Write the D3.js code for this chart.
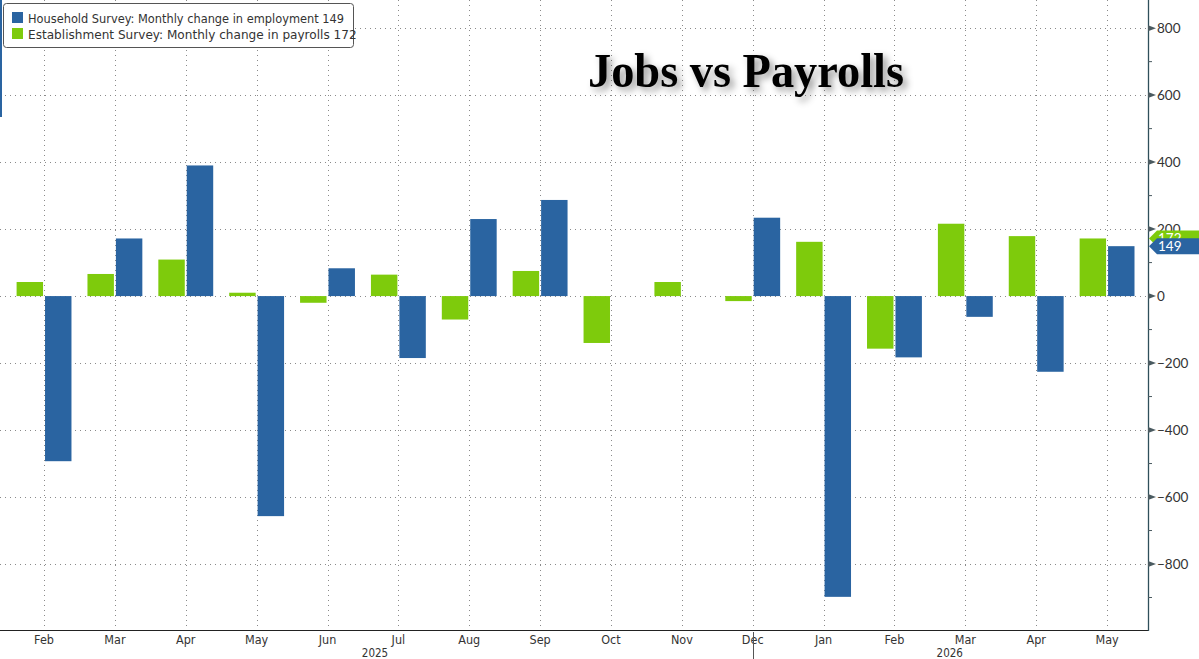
<!DOCTYPE html>
<html>
<head>
<meta charset="utf-8">
<script src="https://cdn.jsdelivr.net/npm/d3@7"></script>
<style>
  html, body { margin: 0; padding: 0; background: #fff; }
  svg { display: block; }
  .lbl { font-family: "DejaVu Sans Condensed", "Liberation Sans Narrow", "DejaVu Sans", sans-serif; fill: #333; }
</style>
</head>
<body>
<svg id="chart"></svg>
<script>
// months shown on the axis (Feb 2025 .. May 2026)
const months = ['Feb', 'Mar', 'Apr', 'May', 'Jun', 'Jul', 'Aug', 'Sep', 'Oct', 'Nov', 'Dec',
                'Jan', 'Feb', 'Mar', 'Apr', 'May'];
const monthKeys = months.map((m, i) => i + '-' + m);
const years = [{ label: '2025', at: 4.67 }, { label: '2026', at: 12.78 }];

// thousands, monthly change
const establishment = [42, 66, 109, 10, -20, 64, -70, 75, -140, 42, -15, 162, -157, 216, 179, 172];
const household = [-493, 172, 390, -657, 83, -185, 230, 287, null, null, 234, -898, -183, -62, -226, 149];

const yTicks = [800, 600, 400, 200, 0, -200, -400, -600, -800];
const yMinor = [700, 500, 300, 100, -100, -300, -500, -700, -900];

const seriesNames = ['Establishment Survey: Monthly change in payrolls', 'Household Survey: Monthly change in employment'];
const colors = { est: '#7ecb0c', hh: '#2a64a1' };

const W = 1199, H = 659;
const plotR = 1148, plotB = 630;

const svg = d3.select('#chart').attr('width', W).attr('height', H);

const x = d3.scaleBand().domain(monthKeys).range([8.6, 1142.5]);
const sub = d3.scaleBand().domain(['est', 'hh']).range([8, x.bandwidth() - 8]).paddingInner(0.07);
const y = d3.scaleLinear().domain([-997, 884]).range([plotB, 0]);
const cx = k => x(k) + x.bandwidth() / 2;

const defs = svg.append('defs');
const f = defs.append('filter').attr('id', 'shadow').attr('x', '-10%').attr('y', '-30%').attr('width', '130%').attr('height', '170%');
f.append('feDropShadow').attr('dx', 4).attr('dy', 4).attr('stdDeviation', 3.5).attr('flood-color', '#000').attr('flood-opacity', 0.4);

// grid
const grid = svg.append('g').attr('stroke', '#8a8a8a').attr('stroke-width', 1).attr('stroke-dasharray', '1,4');
grid.selectAll('.h').data(yTicks).join('line')
  .attr('x1', 0).attr('x2', plotR).attr('y1', d => Math.round(y(d)) + 0.5).attr('y2', d => Math.round(y(d)) + 0.5);
grid.selectAll('.v').data(monthKeys).join('line')
  .attr('y1', 0).attr('y2', plotB).attr('x1', d => Math.round(cx(d)) + 0.5).attr('x2', d => Math.round(cx(d)) + 0.5);

// left border artifact
svg.append('line').attr('x1', 1).attr('x2', 1).attr('y1', 0).attr('y2', 117)
  .attr('stroke', '#2a64a1').attr('stroke-width', 2);

// bars
const bars = svg.append('g');
const rows = monthKeys.map((k, i) => ({ k, est: establishment[i], hh: household[i] }));
['est', 'hh'].forEach(s => {
  bars.selectAll('.b-' + s).data(rows.filter(r => r[s] != null)).join('rect')
    .attr('x', r => x(r.k) + sub(s))
    .attr('width', sub.bandwidth())
    .attr('y', r => y(Math.max(0, r[s])))
    .attr('height', r => Math.abs(y(r[s]) - y(0)))
    .attr('fill', colors[s]);
});

// x axis
svg.append('line').attr('x1', 0).attr('x2', plotR).attr('y1', plotB + 0.5).attr('y2', plotB + 0.5)
  .attr('stroke', '#222').attr('stroke-width', 1.2);
svg.append('g').selectAll('text').data(monthKeys).join('text')
  .attr('class', 'lbl').attr('x', d => cx(d)).attr('y', 644)
  .attr('text-anchor', 'middle').attr('font-size', 12.5)
  .text((d, i) => months[i]);
svg.append('g').selectAll('text').data(years).join('text')
  .attr('class', 'lbl').attr('x', d => cx(monthKeys[0]) + d.at * x.step()).attr('y', 657)
  .attr('text-anchor', 'middle').attr('font-size', 11.5)
  .text(d => d.label);
svg.append('line').attr('x1', Math.round(cx(monthKeys[10])) + 0.5).attr('x2', Math.round(cx(monthKeys[10])) + 0.5)
  .attr('y1', 632).attr('y2', H).attr('stroke', '#555');

// right y axis
svg.append('line').attr('x1', plotR + 0.5).attr('x2', plotR + 0.5).attr('y1', 0).attr('y2', plotB + 1)
  .attr('stroke', '#2f4f5a').attr('stroke-width', 1.3);
svg.append('g').selectAll('path').data(yTicks).join('path')
  .attr('d', d => `M${plotR},${y(d) - 3}L${plotR + 8},${y(d)}L${plotR},${y(d) + 3}Z`)
  .attr('fill', '#4a5a60');
svg.append('g').selectAll('line').data(yMinor).join('line')
  .attr('x1', plotR).attr('x2', plotR + 4).attr('y1', d => y(d)).attr('y2', d => y(d))
  .attr('stroke', '#4a5a60');
svg.append('g').selectAll('text').data(yTicks).join('text')
  .attr('x', plotR + 9).attr('y', d => y(d) + 5)
  .attr('font-family', 'Lato, "Open Sans", sans-serif').attr('font-size', 13.5).attr('fill', '#333')
  .text(d => d3.format('d')(d));

// last value tags
const lastIdx = monthKeys.length - 1;
const tags = [
  { v: establishment[lastIdx], c: colors.est },
  { v: household[lastIdx], c: colors.hh }
];
const tg = svg.append('g');
tags.forEach(t => {
  const yy = y(t.v);
  tg.append('path')
    .attr('d', `M${plotR + 1},${yy}L${plotR + 9},${yy - 8}L${W},${yy - 8}L${W},${yy + 8}L${plotR + 9},${yy + 8}Z`)
    .attr('fill', t.c);
  tg.append('text').attr('x', plotR + 10).attr('y', yy + 5)
    .attr('font-family', 'Lato, "Open Sans", sans-serif').attr('font-size', 13.5).attr('fill', '#fff')
    .text(t.v);
});

// legend
const lg = svg.append('g');
lg.append('rect').attr('x', 3.5).attr('y', 3.5).attr('width', 350).attr('height', 44).attr('rx', 3)
  .attr('fill', '#fff').attr('stroke', '#555');
const legendRows = [
  { name: seriesNames[1], v: household[lastIdx], c: colors.hh },
  { name: seriesNames[0], v: establishment[lastIdx], c: colors.est }
];
legendRows.forEach((r, i) => {
  lg.append('rect').attr('x', 12).attr('y', 12 + i * 16).attr('width', 11).attr('height', 11).attr('fill', r.c);
  const label = r.name + ' ' + r.v;
  lg.append('text').attr('class', 'lbl').attr('x', 28).attr('y', 22.5 + i * 16)
    .attr('font-size', 12.5)
    .attr('textLength', label.length * 6.32).attr('lengthAdjust', 'spacingAndGlyphs')
    .attr('fill', '#222').text(label);
});

// title
svg.append('text').attr('x', 588).attr('y', 87)
  .attr('font-family', '"Liberation Serif", "DejaVu Serif", serif').attr('font-weight', 'bold')
  .attr('font-size', 48).attr('fill', '#000')
  .attr('textLength', 316).attr('lengthAdjust', 'spacingAndGlyphs')
  .attr('filter', 'url(#shadow)')
  .text('Jobs vs Payrolls');
</script>
</body>
</html>
